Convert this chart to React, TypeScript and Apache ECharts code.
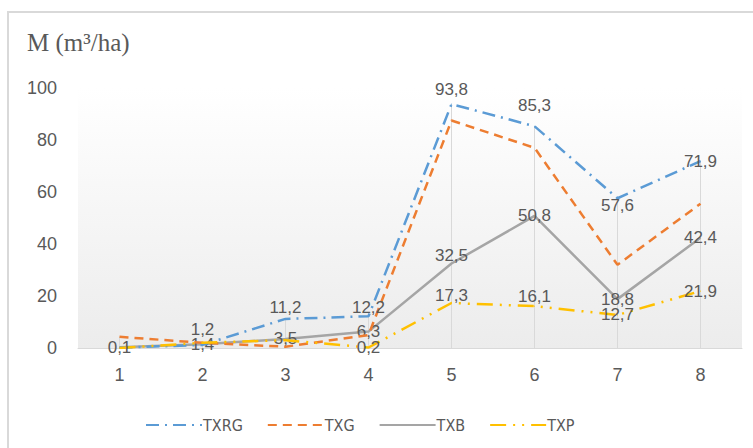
import React, { useEffect, useRef } from "react";
import * as echarts from "echarts";

const categories = ["1", "2", "3", "4", "5", "6", "7", "8"];
const txrg = [0.1, 1.2, 11.2, 12.2, 93.8, 85.3, 57.6, 71.9];
const txg = [4.3, 2.0, 0.5, 5.0, 87.5, 77.0, 32.0, 55.5];
const txb = [0.3, 1.4, 3.5, 6.3, 32.5, 50.8, 18.8, 42.4];
const txp = [0.0, 2.0, 3.0, 0.2, 17.3, 16.1, 12.7, 21.9];

const yTicks = [0, 20, 40, 60, 80, 100];

const TEXT = "#595959";
const FONT = "'Liberation Sans', Arial, sans-serif";
const fmt = (v: number) => String(v).replace(".", ",");

// label placement per point: [show, position, distance]
type LP = [boolean, string, number];
const txrgLabels: LP[] = [
  [true, "inside", 0], [true, "top", 6], [true, "top", 2], [true, "top", 0],
  [true, "top", 6], [true, "top", 12], [true, "bottom", -2], [true, "inside", 0],
];
const txbLabels: LP[] = [
  [false, "inside", 0], [true, "inside", 0], [true, "inside", 0], [true, "inside", 0],
  [true, "top", -1], [true, "inside", 0], [true, "inside", 0], [true, "inside", 0],
];
const txpLabels: LP[] = [
  [false, "inside", 0], [false, "inside", 0], [false, "inside", 0], [true, "inside", 0],
  [true, "top", -1], [true, "top", 1], [true, "inside", 0], [true, "inside", 0],
];

function withLabels(values: number[], spec: LP[]) {
  return values.map((v, i) => ({
    value: v,
    label: {
      show: spec[i][0],
      position: spec[i][1],
      distance: spec[i][2],
    },
  }));
}

export default function App() {
  const ref = useRef<HTMLDivElement>(null);

  useEffect(() => {
    if (!ref.current) return;
    const chart = echarts.init(ref.current, undefined, { renderer: "svg" });

    const maxPerCat = categories.map((_, i) =>
      Math.max(txrg[i], txg[i], txb[i], txp[i])
    );

    const labelBase = {
      color: TEXT,
      fontFamily: FONT,
      fontSize: 17,
      formatter: (p: any) => fmt(p.value),
    };

    // tiny point markers so the value labels can be drawn
    const hiddenPoint = {
      symbol: "circle",
      symbolSize: 1,
      showSymbol: true,
    };

    const option: any = {
      animation: false,
      backgroundColor: "#ffffff",
      graphic: [
        {
          type: "rect",
          shape: { x: 8, y: 12, width: 780, height: 460 },
          style: { fill: "none", stroke: "#d9d9d9", lineWidth: 2 },
          silent: true,
        },
        {
          type: "text",
          x: 27,
          y: 30,
          style: {
            text: "M (m³/ha)",
            fill: TEXT,
            font: "25px 'Liberation Serif', 'Times New Roman', serif",
          },
        },
      ],
      grid: {
        left: 78,
        right: 11,
        top: 88,
        bottom: 100,
        show: true,
        borderWidth: 0,
        backgroundColor: new echarts.graphic.LinearGradient(0, 0, 0, 1, [
          { offset: 0, color: "#ffffff" },
          { offset: 1, color: "#ececec" },
        ]),
      },
      legend: {
        left: 140,
        top: 412,
        itemWidth: 56,
        itemHeight: 14,
        itemGap: 24,
        itemStyle: { opacity: 0 },
        textStyle: {
          color: TEXT,
          fontSize: 16,
          fontFamily: "'Liberation Sans Narrow', 'DejaVu Sans Condensed', Arial, sans-serif",
          padding: [0, 0, 0, -4],
        },
        data: ["TXRG", "TXG", "TXB", "TXP"],
      },
      xAxis: {
        type: "category",
        data: categories,
        boundaryGap: true,
        axisLine: { lineStyle: { color: "#d9d9d9", width: 1 } },
        axisTick: { show: false },
        axisLabel: { color: TEXT, fontSize: 18, fontFamily: FONT, margin: 18 },
        splitLine: { show: false },
      },
      yAxis: {
        type: "value",
        min: 0,
        max: 100,
        interval: 20,
        axisLine: { show: false },
        axisTick: { show: false },
        splitLine: { show: false },
        axisLabel: {
          color: TEXT,
          fontSize: 18,
          fontFamily: FONT,
          margin: 21,
          formatter: (v: number) => (yTicks.includes(v) ? String(v) : ""),
        },
      },
      series: [
        {
          name: "TXB",
          type: "line",
          data: withLabels(txb, txbLabels),
          ...hiddenPoint,
          z: 3,
          lineStyle: { color: "#a5a5a5", width: 2.5, type: "solid" },
          itemStyle: { color: "#a5a5a5" },
          label: { show: true, ...labelBase },
          markLine: {
            silent: true,
            symbol: "none",
            label: { show: false },
            lineStyle: { color: "#d9d9d9", width: 1, type: "solid" },
            data: maxPerCat.map((m, i) => [
              { coord: [i, m] },
              { coord: [i, 0] },
            ]),
            z: 1,
          },
        },
        {
          name: "TXRG",
          type: "line",
          data: withLabels(txrg, txrgLabels),
          ...hiddenPoint,
          z: 4,
          lineStyle: { color: "#5b9bd5", width: 2.5, type: [13, 6, 2, 6] },
          itemStyle: { color: "#5b9bd5" },
          label: { show: true, ...labelBase },
        },
        {
          name: "TXG",
          type: "line",
          data: txg,
          symbol: "none",
          z: 4,
          lineStyle: { color: "#ed7d31", width: 2.5, type: [9, 6] },
          itemStyle: { color: "#ed7d31" },
          label: { show: false },
        },
        {
          name: "TXP",
          type: "line",
          data: withLabels(txp, txpLabels),
          ...hiddenPoint,
          z: 4,
          lineStyle: { color: "#ffc000", width: 2.5, type: [16, 7, 2, 7, 2, 7] },
          itemStyle: { color: "#ffc000" },
          label: { show: true, ...labelBase },
        },
      ],
    };

    chart.setOption(option);
    return () => chart.dispose();
  }, []);

  return (
    <div
      ref={ref}
      style={{ position: "fixed", left: 0, top: 0, width: 753, height: 448 }}
    />
  );
}
